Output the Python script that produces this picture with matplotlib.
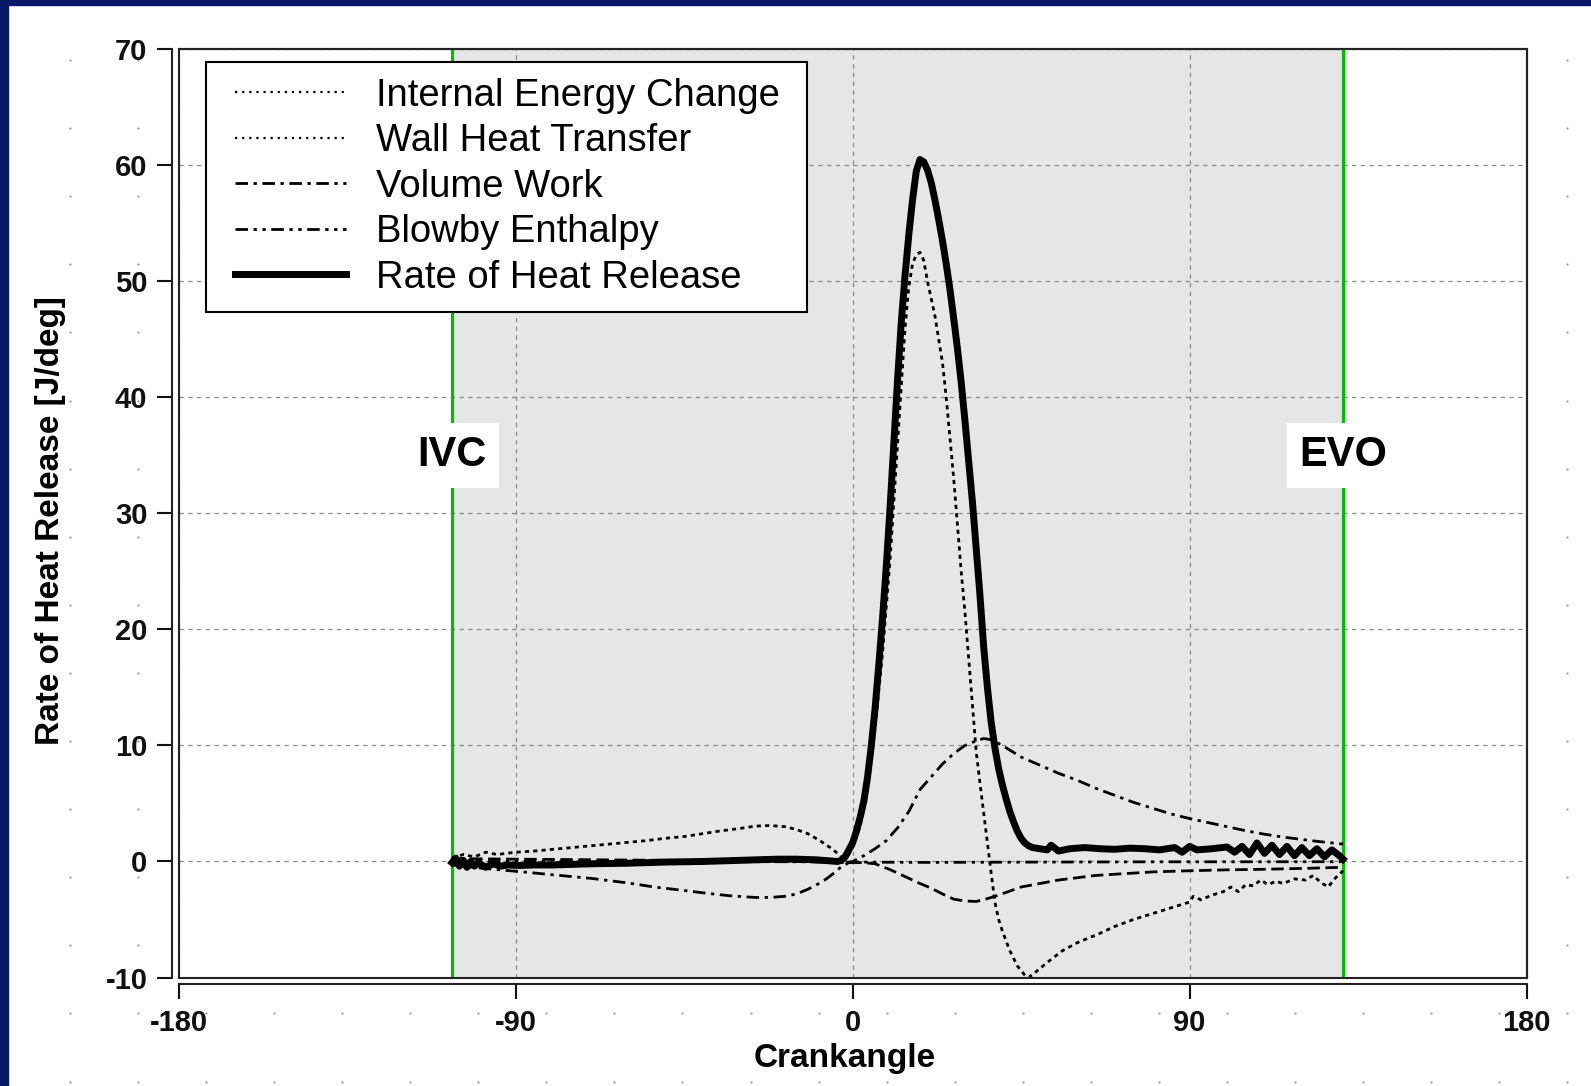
import numpy as np
import matplotlib
matplotlib.use("Agg")
import matplotlib.pyplot as plt
from matplotlib.lines import Line2D
from matplotlib.patches import Rectangle
from matplotlib.legend_handler import HandlerLine2D

plt.rcParams["font.family"] = ["Liberation Sans", "DejaVu Sans"]
plt.rcParams["axes.unicode_minus"] = False

# crank angle markers
ivc = -107
evo = 131

# Rate of Heat Release [J/deg]
rohr_x = [-107, -106, -105, -104, -103, -102, -101, -100, -98, -96, -94, -92, -89, -85,
          -80, -70, -60, -50, -40, -30, -20, -15, -10, -6, -4, -3, -2, -1, 0, 1, 2, 3, 4,
          5, 6, 7, 8, 9, 10, 11, 12, 13, 14, 15, 16, 17, 18, 19, 20, 21, 22, 23, 24, 25,
          26, 27, 28, 29, 30, 31, 32, 33, 34, 35, 36, 37, 38, 39, 40, 41, 42, 43, 44, 45,
          46, 47, 48, 50, 52, 53, 55, 58, 62, 66, 70, 74, 78, 82, 86, 88, 90, 92, 96, 100,
          102, 104, 106, 108, 110, 112, 114, 116, 118, 120, 122, 124, 126, 128, 130, 131]
rohr_y = [-0.1, 0.3, -0.4, 0.1, -0.5, 0.0, -0.4, -0.1, -0.5, -0.2, -0.4, -0.3, -0.35, -0.3,
          -0.3, -0.2, -0.15, -0.05, 0.0, 0.1, 0.2, 0.2, 0.15, 0.05, 0.0, 0.1, 0.4, 1.0, 1.6,
          2.6, 3.8, 5.2, 7.3, 10.0, 13.2, 17.0, 21.0, 25.5, 30.5, 36.0, 41.5, 46.5, 50.5,
          54.0, 57.0, 59.5, 60.5, 60.3, 59.6, 58.5, 57.0, 55.3, 53.5, 51.5, 49.3, 46.8, 44.2,
          41.3, 38.0, 34.5, 31.0, 27.0, 23.0, 18.5, 15.0, 12.0, 9.8, 8.0, 6.6, 5.4, 4.3, 3.4,
          2.6, 2.0, 1.6, 1.35, 1.2, 1.1, 1.0, 1.4, 0.9, 1.1, 1.2, 1.1, 1.05, 1.15, 1.1, 1.0,
          1.2, 0.8, 1.3, 1.0, 1.1, 1.25, 0.8, 1.3, 0.6, 1.6, 0.7, 1.4, 0.6, 1.3, 0.5, 1.2,
          0.5, 1.1, 0.4, 1.0, 0.5, 0.2]

# Internal Energy Change
iec_x = [-107, -104, -101, -98, -95, -90, -85, -80, -75, -70, -65, -60, -55, -50, -45, -40,
         -35, -30, -26, -22, -18, -15, -12, -9, -6, -4, -3, -1, 0, 2, 4, 6, 8, 10, 11, 12,
         13, 14, 15, 16, 17, 18, 19, 20, 21, 22, 23, 24, 25, 26, 27, 28, 29, 30, 31, 32, 33,
         34, 35, 36, 37, 38, 39, 40, 42, 44, 46, 47, 49, 52, 56, 60, 66, 70, 75, 80, 85, 90,
         91, 93, 96, 99, 101, 103, 105, 107, 109, 111, 113, 115, 118, 121, 123, 125, 127,
         129, 131]
iec_y = [0.3, 0.6, 0.4, 0.8, 0.6, 0.8, 0.9, 1.05, 1.2, 1.35, 1.5, 1.65, 1.8, 2.0, 2.15, 2.4,
         2.65, 2.85, 3.05, 3.1, 3.0, 2.75, 2.4, 1.85, 1.2, 0.7, 0.4, 0.6, 1.2, 3.0, 6.2, 11.5,
         18.0, 26.0, 31.0, 36.0, 41.0, 46.0, 49.5, 51.5, 52.3, 52.5, 51.8, 50.0, 48.5, 47.0,
         45.0, 43.0, 40.0, 36.5, 33.0, 29.0, 25.0, 21.5, 17.5, 13.5, 9.5, 6.8, 4.2, 1.6, -1.0,
         -3.5, -5.0, -6.0, -7.7, -9.0, -9.8, -10.0, -9.5, -8.7, -7.7, -7.0, -6.2, -5.6, -5.0,
         -4.5, -4.0, -3.5, -3.0, -3.3, -2.9, -2.6, -2.2, -2.6, -2.0, -2.1, -1.6, -2.0, -1.7,
         -1.9, -1.5, -1.6, -1.2, -1.8, -2.2, -1.4, -0.8]

# Wall Heat Transfer
wht_x = [-107, -90, -70, -50, -30, -15, -5, 0, 3, 6, 10, 14, 18, 21, 24, 27, 30, 33, 36, 39,
         42, 45, 50, 55, 60, 65, 70, 75, 80, 90, 100, 110, 120, 131]
wht_y = [0.25, 0.2, 0.15, 0.1, 0.05, 0.0, -0.05, -0.1, -0.1, -0.2, -0.7, -1.3, -1.9, -2.3,
         -2.8, -3.25, -3.4, -3.45, -3.2, -2.9, -2.55, -2.2, -1.9, -1.6, -1.4, -1.2, -1.1,
         -1.0, -0.9, -0.8, -0.72, -0.67, -0.6, -0.5]

# Volume Work
vw_x = [-107, -100, -95, -88, -80, -70, -60, -53, -45, -40, -33, -26, -22, -18, -15, -12,
        -9, -7, -5, -3, -1, 0, 3, 6, 9, 12, 15, 18, 21, 24, 27, 30, 33, 35, 37, 40, 45, 50,
        55, 60, 65, 70, 75, 80, 85, 90, 95, 100, 105, 110, 115, 120, 125, 131]
vw_y = [-0.3, -0.55, -0.7, -0.9, -1.15, -1.45, -1.85, -2.2, -2.5, -2.7, -2.95, -3.1, -3.1,
        -3.0, -2.8, -2.4, -1.9, -1.5, -1.0, -0.45, -0.1, 0.0, 0.5, 1.1, 1.8, 2.9, 4.3, 6.2,
        7.3, 8.4, 9.3, 10.0, 10.4, 10.6, 10.5, 10.0, 9.0, 8.3, 7.6, 7.0, 6.3, 5.7, 5.1, 4.6,
        4.1, 3.7, 3.35, 3.0, 2.65, 2.35, 2.1, 1.9, 1.7, 1.5]

# Blowby Enthalpy
bb_x = [-107, -60, -20, 0, 20, 40, 80, 131]
bb_y = [0.0, 0.0, -0.02, -0.05, -0.08, -0.06, -0.03, -0.02]

x_ticks = [-180, -90, 0, 90, 180]
y_ticks = [-10, 0, 10, 20, 30, 40, 50, 60, 70]

fig = plt.figure(figsize=(15.91, 10.86), dpi=100)
fig.patch.set_facecolor("white")

# dotted background + navy border
bg = fig.add_axes([0, 0, 1, 1], zorder=-10)
bg.set_xlim(0, 1591)
bg.set_ylim(1086, 0)
bg.axis("off")
gx, gy = np.meshgrid(np.arange(70, 1591, 68.05), np.arange(60, 1086, 68.1))
bg.scatter(gx.ravel(), gy.ravel(), s=2.5, color="#9a9a9a", linewidths=0)
bg.add_patch(Rectangle((0, 0), 1591, 5, color="#0a1868"))
bg.add_patch(Rectangle((0, 0), 8, 1086, color="#0a1868"))

ax = fig.add_axes([0.1123, 0.0999, 0.8472, 0.8547])
ax.set_facecolor("white")
ax.set_xlim(-180, 180)
ax.set_ylim(-10, 70)
ax.set_xticks(x_ticks)
ax.set_yticks(y_ticks)

ax.axvspan(ivc, evo, color="#e6e6e6", lw=0, zorder=0.8)
ax.grid(True, color="#8a8a8a", lw=0.9, linestyle=(0, (3.5, 3.5)))
ax.axvline(ivc, color="#00c000", lw=2.3, zorder=2.5)
ax.axvline(evo, color="#00c000", lw=2.3, zorder=2.5)

ax.plot(iec_x, iec_y, color="black", lw=2.0, linestyle=(0, (1.5, 1.5)), zorder=3)
ax.plot(wht_x, wht_y, color="black", lw=2.0, linestyle=(0, (4.5, 2.0)), zorder=3)
ax.plot(vw_x, vw_y, color="black", lw=2.0, linestyle=(0, (4.5, 2.0, 1.2, 2.0)), zorder=3)
ax.plot(bb_x, bb_y, color="black", lw=2.0,
        linestyle=(0, (4.5, 2.0, 1.2, 2.0, 1.2, 2.0)), zorder=3)
ax.plot(rohr_x, rohr_y, color="black", lw=5.0, zorder=4, solid_joinstyle="round")

box = dict(boxstyle="square,pad=0.3", fc="white", ec="none")
ax.text(ivc, 35, "IVC", fontsize=30, fontweight="bold", ha="center", va="center",
        bbox=box, zorder=6)
ax.text(evo, 35, "EVO", fontsize=30, fontweight="bold", ha="center", va="center",
        bbox=box, zorder=6)

# frame + offset axes
for s in ["top", "right"]:
    ax.spines[s].set_linewidth(1.5)
    ax.spines[s].set_color("#222222")
for s in ["left", "bottom"]:
    ax.spines[s].set_position(("outward", 4.5))
    ax.spines[s].set_linewidth(1.5)
    ax.spines[s].set_color("#222222")
ax.add_patch(Rectangle((0, 0), 1, 1, transform=ax.transAxes, fill=False, lw=1.5,
                       ec="#222222", clip_on=False, zorder=5))
ax.tick_params(direction="out", length=11, width=1.5, pad=7, labelsize=21, colors="#111111")
for lbl in ax.get_xticklabels() + ax.get_yticklabels():
    lbl.set_fontweight("bold")

ax.set_xlabel("Crankangle", fontsize=24, fontweight="bold")
ax.set_ylabel("Rate of Heat Release [J/deg]", fontsize=24, fontweight="bold")
ax.xaxis.set_label_coords(0.494, -0.087)
ax.xaxis.label.set_va("center")
ax.yaxis.set_label_coords(-0.0948, 0.492)
ax.yaxis.label.set_va("center")

handles = [
    Line2D([], [], color="black", lw=1.6, linestyle=(0, (1, 2.2))),
    Line2D([], [], color="black", lw=1.6, linestyle=(0, (1, 2.2))),
    Line2D([], [], color="black", lw=2.0, linestyle=(0, (4.5, 2.0, 1.2, 2.0))),
    Line2D([], [], color="black", lw=2.0, linestyle=(0, (4.5, 2.0, 1.2, 2.0, 1.2, 2.0))),
    Line2D([], [], color="black", lw=5.0),
]
labels = ["Internal Energy Change ", "Wall Heat Transfer", "Volume Work",
          "Blowby Enthalpy", "Rate of Heat Release"]
leg = ax.legend(handles, labels, loc="upper left", bbox_to_anchor=(0.0204, 0.9868),
                borderaxespad=0, fontsize=27.5, frameon=True, fancybox=False,
                edgecolor="black", framealpha=1, handlelength=3.25, handletextpad=0.78,
                labelspacing=0.25, borderpad=0.42,
                handler_map={Line2D: HandlerLine2D(xpad=0.33)})
leg.get_frame().set_linewidth(1.5)
leg.set_zorder(7)

fig.savefig("out.png", dpi=100)
